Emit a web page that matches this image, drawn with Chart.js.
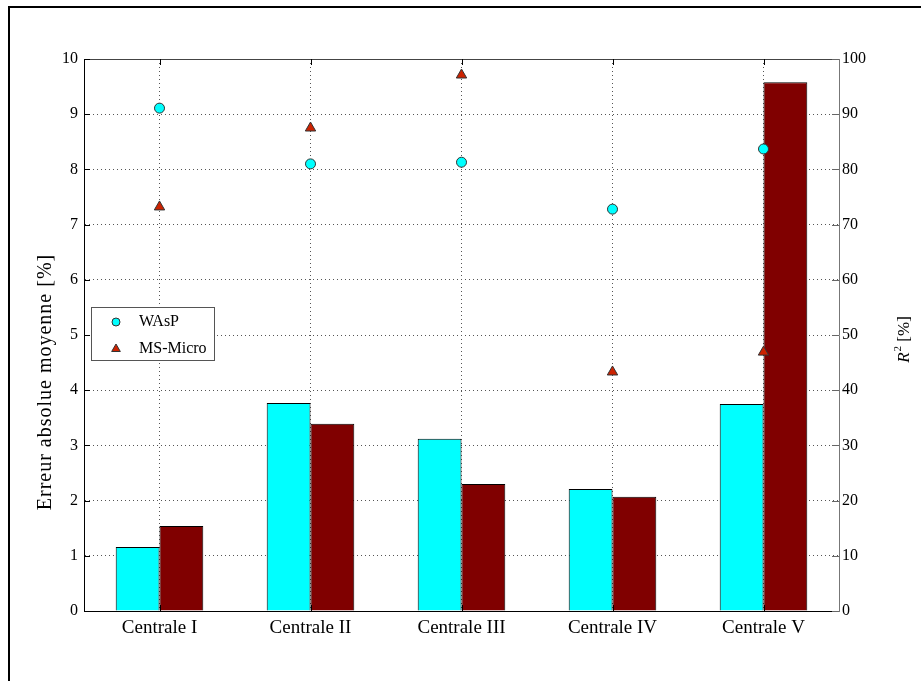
<!DOCTYPE html>
<html>
<head>
<meta charset="utf-8">
<script src="https://cdn.jsdelivr.net/npm/chart.js@4"></script>
<style>
  html, body { margin: 0; padding: 0; background: #fff; }
  #wrap { position: relative; width: 921px; height: 681px; }
</style>
</head>
<body>
<div id="wrap"><canvas id="chart" width="921" height="681"></canvas></div>
<script>
// data
const categories = ['Centrale I', 'Centrale II', 'Centrale III', 'Centrale IV', 'Centrale V'];
const maeWasp = [1.16, 3.77, 3.12, 2.21, 3.75];
const maeMsMicro = [1.54, 3.39, 2.30, 2.07, 9.58];
const r2Wasp = [91.1, 81.0, 81.3, 72.8, 83.7];
const r2MsMicro = [73.2, 87.5, 97.1, 43.3, 46.9];
const leftTicks = [0, 1, 2, 3, 4, 5, 6, 7, 8, 9, 10];
const rightTicks = [0, 10, 20, 30, 40, 50, 60, 70, 80, 90, 100];
const leftTitle = 'Erreur absolue moyenne [%]';

const serif = '"Liberation Serif", "DejaVu Serif", serif';

// MATLAB style box, inner ticks, frame, legend and axis labels
const extras = {
    id: 'extras',
    afterDraw(chart) {
        const ctx = chart.ctx;
        const a = chart.chartArea;
        const yS = chart.scales.y, y2S = chart.scales.y2, xS = chart.scales.x;
        ctx.save();

        // outer frame
        ctx.strokeStyle = '#000';
        ctx.lineWidth = 2;
        ctx.beginPath();
        ctx.moveTo(9, 700);
        ctx.lineTo(9, 7);
        ctx.lineTo(940, 7);
        ctx.stroke();

        // top box line
        ctx.lineWidth = 1;
        ctx.strokeStyle = '#444';
        ctx.beginPath();
        ctx.moveTo(a.left, a.top + 0.5);
        ctx.lineTo(a.right, a.top + 0.5);
        ctx.stroke();

        // inner ticks
        ctx.strokeStyle = '#000';
        leftTicks.forEach(v => {
            const py = Math.round(yS.getPixelForValue(v)) + 0.5;
            ctx.beginPath();
            ctx.moveTo(a.left, py);
            ctx.lineTo(a.left + 6, py);
            ctx.stroke();
        });
        ctx.strokeStyle = '#666';
        rightTicks.forEach(v => {
            const py = Math.round(y2S.getPixelForValue(v)) + 0.5;
            ctx.beginPath();
            ctx.moveTo(a.right, py);
            ctx.lineTo(a.right - 7, py);
            ctx.stroke();
        });
        ctx.strokeStyle = '#000';
        categories.forEach((c, i) => {
            const px = Math.round(xS.getPixelForValue(i)) + 0.5;
            ctx.beginPath();
            ctx.moveTo(px, a.bottom);
            ctx.lineTo(px, a.bottom - 6);
            ctx.moveTo(px, a.top);
            ctx.lineTo(px, a.top + 6);
            ctx.stroke();
        });

        // legend
        const lx = a.left + 7, ly = a.top + 248, lw = 123, lh = 53;
        ctx.fillStyle = '#fff';
        ctx.fillRect(lx, ly, lw, lh);
        ctx.strokeStyle = '#555';
        ctx.strokeRect(lx + 0.5, ly + 0.5, lw, lh);
        const marks = chart.data.datasets.filter(d => d.type === 'line');
        marks.forEach((d, i) => {
            const cy = ly + 15 + i * 27;
            ctx.fillStyle = d.backgroundColor;
            ctx.strokeStyle = d.borderColor;
            ctx.lineWidth = 1;
            Chart.helpers.drawPoint(ctx, {
                pointStyle: d.pointStyle, radius: d.pointRadius - 1, rotation: 0, borderWidth: 1
            }, lx + 25, cy);
            ctx.fillStyle = '#000';
            ctx.font = '16px ' + serif;
            ctx.textBaseline = 'middle';
            ctx.textAlign = 'left';
            ctx.fillText(d.label, lx + 48, cy);
        });

        // left axis title
        ctx.save();
        ctx.translate(46, 382);
        ctx.rotate(-Math.PI / 2);
        ctx.fillStyle = '#000';
        ctx.textAlign = 'center';
        ctx.textBaseline = 'middle';
        ctx.font = '20px ' + serif;
        ctx.letterSpacing = '1px';
        ctx.fillText(leftTitle, 0, 0);
        ctx.restore();

        // right axis title: R^2 [%]
        ctx.translate(a.right + 66, (a.top + a.bottom) / 2 + 5);
        ctx.rotate(-Math.PI / 2);
        ctx.fillStyle = '#000';
        ctx.textBaseline = 'middle';
        ctx.textAlign = 'left';
        ctx.font = 'italic 17px ' + serif;
        const w1 = ctx.measureText('R').width;
        ctx.font = '17px ' + serif;
        const w3 = ctx.measureText(' [%]').width;
        ctx.font = '11px ' + serif;
        const w2 = ctx.measureText('2').width;
        let x0 = -(w1 + w2 + w3) / 2;
        ctx.font = 'italic 17px ' + serif;
        ctx.fillText('R', x0, 0);
        ctx.font = '11px ' + serif;
        ctx.fillText('2', x0 + w1 + 1, -7);
        ctx.font = '17px ' + serif;
        ctx.fillText(' [%]', x0 + w1 + w2 + 1, 0);
        ctx.restore();
    }
};

const ctx = document.getElementById('chart').getContext('2d');
const chart = new Chart(ctx, {
    data: {
        labels: categories,
        datasets: [
            {
                type: 'line', label: 'WAsP', data: r2Wasp, yAxisID: 'y2',
                showLine: false, pointStyle: 'circle', pointRadius: 5,
                backgroundColor: '#00ffff', borderColor: '#333', pointBorderWidth: 1, order: 1
            },
            {
                type: 'line', label: 'MS-Micro', data: r2MsMicro, yAxisID: 'y2',
                showLine: false, pointStyle: 'triangle', pointRadius: 6,
                backgroundColor: '#cc2200', borderColor: '#333', pointBorderWidth: 1, order: 1
            },
            {
                type: 'bar', label: 'WAsP', data: maeWasp, yAxisID: 'y',
                backgroundColor: '#00ffff', borderColor: '#000', borderWidth: 1, order: 2
            },
            {
                type: 'bar', label: 'MS-Micro', data: maeMsMicro, yAxisID: 'y',
                backgroundColor: '#800000', borderColor: '#000', borderWidth: 1, order: 2
            }
        ]
    },
    options: {
        responsive: false,
        animation: false,
        devicePixelRatio: 1,
        layout: { padding: { top: 59, left: 0, right: 0, bottom: 0 } },
        datasets: { bar: { categoryPercentage: 0.58, barPercentage: 1.0 } },
        plugins: { legend: { display: false }, tooltip: { enabled: false } },
        scales: {
            x: {
                offset: true,
                grid: { offset: false, color: '#555', drawTicks: false },
                border: { color: '#000', width: 1, dash: [1, 3] },
                ticks: { color: '#000', font: { family: serif, size: 19 }, padding: 6, maxRotation: 0 },
                afterFit(s) { s.height = 70; }
            },
            y: {
                position: 'left', min: 0, max: 10,
                afterBuildTicks(s) { s.ticks = leftTicks.map(v => ({ value: v })); },
                grid: { color: '#555', drawTicks: false },
                border: { color: '#000', width: 1, dash: [1, 3] },
                ticks: { color: '#000', font: { family: serif, size: 16 }, padding: 6 },
                afterFit(s) { s.width = 84; }
            },
            y2: {
                position: 'right', min: 0, max: 100,
                afterBuildTicks(s) { s.ticks = rightTicks.map(v => ({ value: v })); },
                grid: { display: false, drawTicks: false },
                border: { color: '#777', width: 1 },
                ticks: { color: '#000', font: { family: serif, size: 16 }, padding: 3 },
                afterFit(s) { s.width = 82; }
            }
        }
    },
    plugins: [extras]
});
</script>
</body>
</html>
